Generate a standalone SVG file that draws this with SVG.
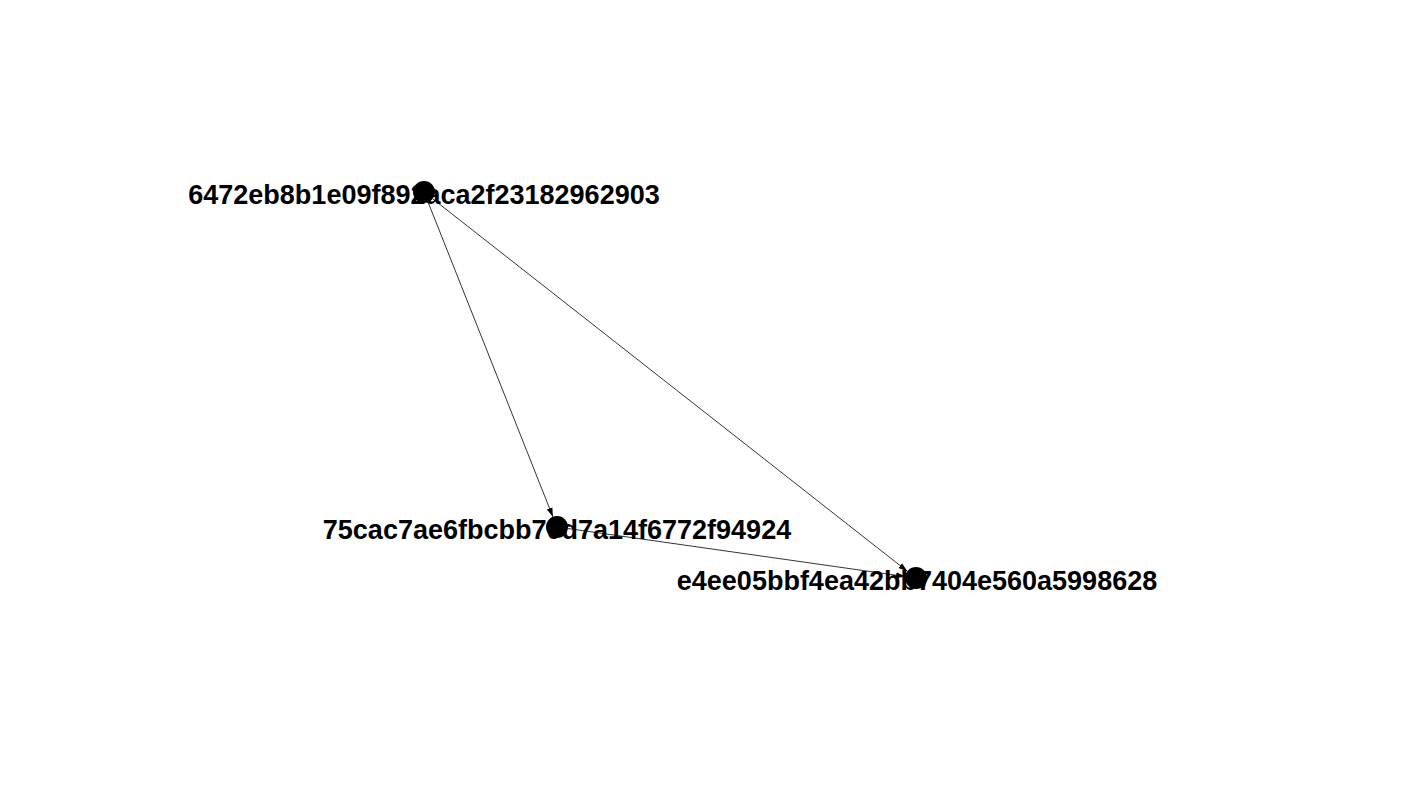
<svg xmlns="http://www.w3.org/2000/svg" width="1416" height="802" viewBox="0 0 1416 802">
<style>
.lbl{font-family:"Liberation Sans",Arial,sans-serif;font-weight:bold;font-size:27px;fill:#000;text-anchor:middle}
.node{fill:#000}
.edge{stroke:#000;stroke-width:0.8;fill:none;marker-end:url(#arr)}
</style>
<defs>
<marker id="arr" markerUnits="userSpaceOnUse" markerWidth="10" markerHeight="8" refX="9" refY="3.5" orient="auto">
<path d="M0,0.5 L9,3.5 L0,6.5 Z" fill="#000"/>
</marker>
</defs>
<rect width="1416" height="802" fill="#fff"/>
<g id="n1">
<text class="lbl" x="424" y="204">6472eb8b1e09f892aca2f23182962903</text>
<circle class="node" cx="424" cy="192" r="11"/>
</g>
<g id="n2">
<text class="lbl" x="557" y="539">75cac7ae6fbcbb70d7a14f6772f94924</text>
<circle class="node" cx="557" cy="527" r="11"/>
</g>
<g id="n3">
<text class="lbl" x="917" y="590">e4ee05bbf4ea42bb7404e560a5998628</text>
<circle class="node" cx="916" cy="578" r="11"/>
</g>
<g id="edges">
<line class="edge" x1="428.1" y1="202.2" x2="552.9" y2="516.8"/>
<line class="edge" x1="432.7" y1="198.8" x2="907.3" y2="571.2"/>
<line class="edge" x1="567.9" y1="528.5" x2="905.1" y2="576.5"/>
</g>
</svg>
